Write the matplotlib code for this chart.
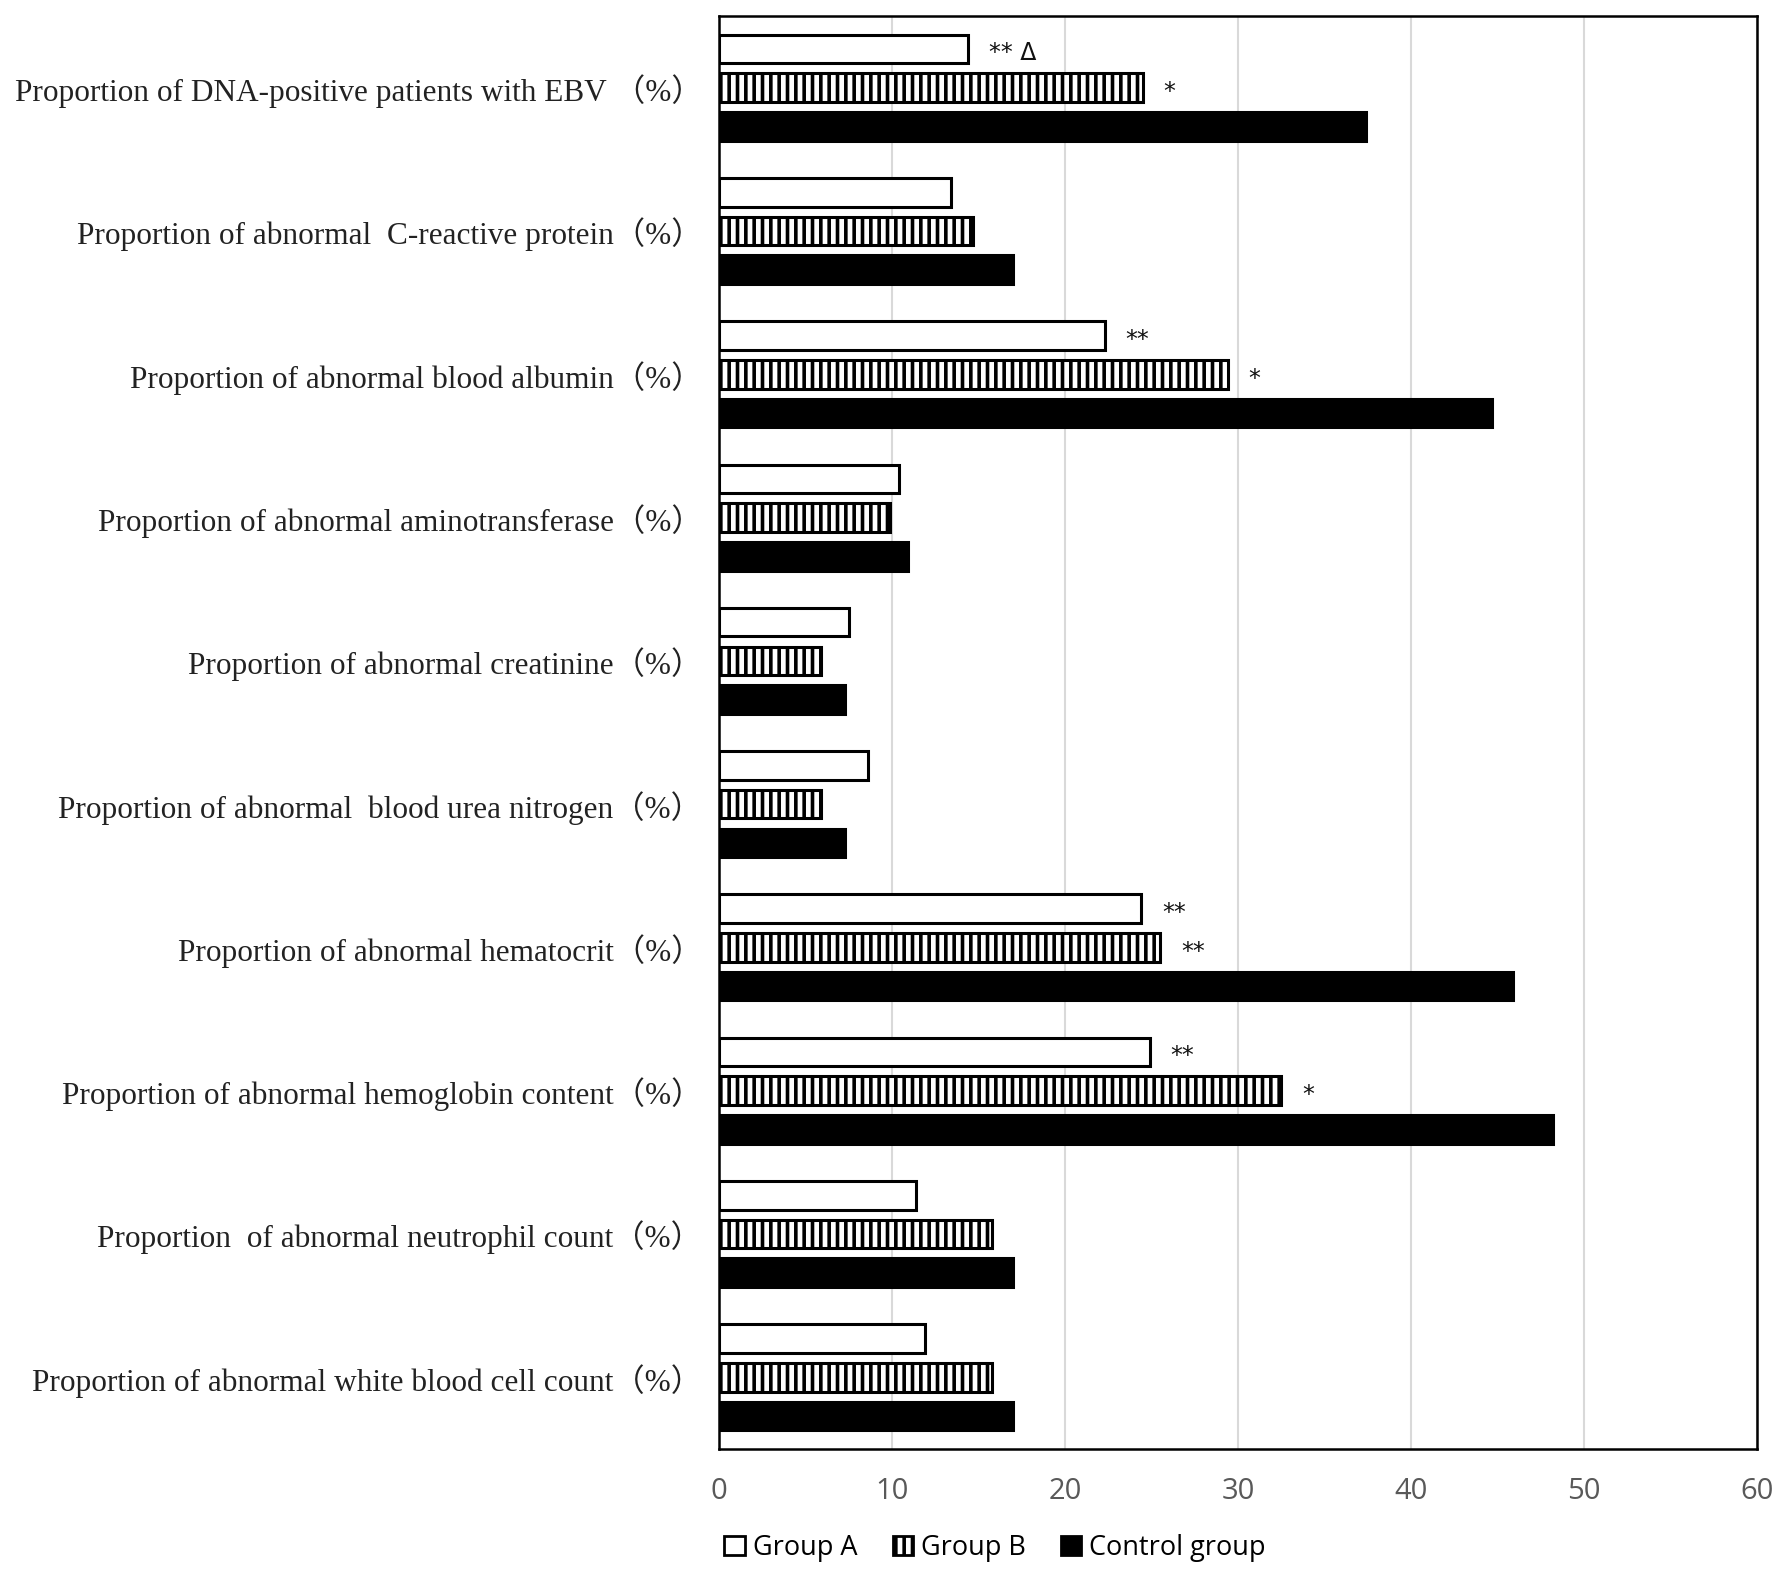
import matplotlib
matplotlib.use("Agg")
import matplotlib.pyplot as plt
from matplotlib.patches import Patch
import numpy as np

categories = [
    "Proportion of DNA-positive patients with EBV \uff08%\uff09",
    "Proportion of abnormal  C-reactive protein\uff08%\uff09",
    "Proportion of abnormal blood albumin\uff08%\uff09",
    "Proportion of abnormal aminotransferase\uff08%\uff09",
    "Proportion of abnormal creatinine\uff08%\uff09",
    "Proportion of abnormal  blood urea nitrogen\uff08%\uff09",
    "Proportion of abnormal hematocrit\uff08%\uff09",
    "Proportion of abnormal hemoglobin content\uff08%\uff09",
    "Proportion  of abnormal neutrophil count\uff08%\uff09",
    "Proportion of abnormal white blood cell count\uff08%\uff09",
]
group_a = [14.4, 13.4, 22.3, 10.4, 7.5, 8.6, 24.4, 24.9, 11.4, 11.9]
group_b = [24.5, 14.7, 29.4, 9.9, 5.9, 5.9, 25.5, 32.5, 15.8, 15.8]
control = [37.4, 17.0, 44.7, 10.9, 7.3, 7.3, 45.9, 48.2, 17.0, 17.0]

# significance marks: (category index, series index, text)
marks = [
    (0, 0, "** \u0394"), (0, 1, "*"),
    (2, 0, "**"), (2, 1, "*"),
    (6, 0, "**"), (6, 1, "**"),
    (7, 0, "**"), (7, 1, "*"),
]

plt.rcParams["hatch.linewidth"] = 2.6

fig = plt.figure(figsize=(17.72, 15.73), dpi=100)
ax = fig.add_axes([719 / 1772, 1 - 1449 / 1573, (1757 - 719) / 1772, (1449 - 16) / 1573])

y = np.arange(len(categories))
h = 0.2
off = 0.27
series = [group_a, group_b, control]
ax.barh(y - off, group_a, height=h, color="white", edgecolor="black", linewidth=2.2, zorder=3)
ax.barh(y, group_b, height=h, color="white", edgecolor="black", hatch="||", linewidth=2.2, zorder=3)
ax.barh(y + off, control, height=h, color="black", edgecolor="black", linewidth=2.2, zorder=3)

for ci, si, txt in marks:
    val = series[si][ci]
    ax.text(val + 1.2, y[ci] + (si - 1) * off + 0.03, txt, ha="left", va="center",
            fontsize=17, color="#111111", family=["DejaVu Sans"])

ax.set_xlim(0, 60)
ax.set_ylim(len(categories) - 0.5, -0.5)
ax.set_xticks(range(0, 61, 10))
ax.grid(axis="x", color="#d9d9d9", linewidth=1.5, zorder=0)
ax.tick_params(axis="both", length=0)
ax.tick_params(axis="x", pad=20, labelsize=21, labelcolor="#595959")
for lab in ax.get_xticklabels():
    lab.set_family(["Open Sans"])
ax.set_yticks(y)
ax.set_yticklabels(categories, family=["Liberation Serif", "Noto Sans CJK SC"],
                   fontsize=22.5, color="#222222")
ax.tick_params(axis="y", pad=12)
for s in ax.spines.values():
    s.set_linewidth(1.8)
    s.set_color("black")

handles = [
    Patch(facecolor="white", edgecolor="black", linewidth=2),
    Patch(facecolor="white", edgecolor="black", hatch="||", linewidth=2),
    Patch(facecolor="black", edgecolor="black", linewidth=2),
]
fig.legend(handles, ["Group A", "Group B", "Control group"], loc="center left",
           bbox_to_anchor=(700 / 1772, 1 - 1548 / 1573), ncol=3, frameon=False,
           handlelength=0.75, handleheight=0.75, handletextpad=0.3, columnspacing=1.3,
           prop={"family": "Open Sans", "size": 19.5})

fig.savefig("out.png", dpi=100)
